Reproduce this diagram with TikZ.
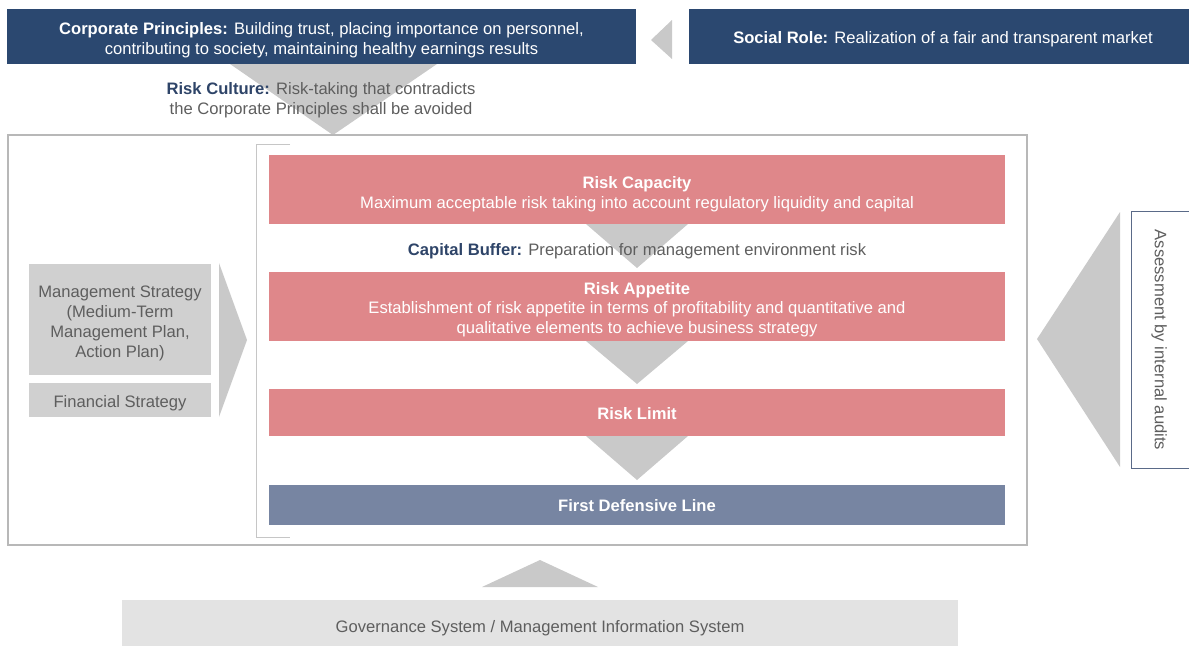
\documentclass[tikz,border=0pt]{standalone}
\usepackage{fontspec}
\setmainfont{Liberation Sans}
\usetikzlibrary{calc}
\definecolor{navy}{HTML}{2B4870}
\definecolor{pinkbox}{HTML}{DF878A}
\definecolor{slate}{HTML}{7785A2}
\definecolor{trigray}{HTML}{C9C9C9}
\definecolor{boxgray}{HTML}{D0D0D0}
\definecolor{govgray}{HTML}{E3E3E3}
\definecolor{txtgray}{HTML}{5E5E5E}
\definecolor{labnavy}{HTML}{2E4468}
\definecolor{framegray}{HTML}{B8B8B8}
\definecolor{auditline}{HTML}{5A6A88}
\newcommand\lowr[1]{\rule{0pt}{#1}}
\begin{document}
\begin{tikzpicture}[x=1pt,y=-1pt,
  every node/.style={inner sep=0pt, outer sep=0pt, align=center, text depth=0pt},
  txt/.style={font=\fontsize{16.6}{20}\selectfont},
  navybox/.style={txt, fill=navy, text=white, minimum height=55pt},
  riskbox/.style={txt, fill=pinkbox, text=white, minimum width=736pt},
  graybox/.style={txt, fill=boxgray, text=txtgray, minimum width=182pt},
  tri/.style={fill=trigray},
]
\useasboundingbox (0,0) rectangle (1189,646);
% top boxes
\node[navybox, minimum width=629pt] (cp) at (321.5,36.5)
  {\lowr{16pt}\textbf{Corporate Principles:} Building trust, placing importance on personnel,\\contributing to society, maintaining healthy earnings results};
\node[navybox, minimum width=501pt] (sr) at (939.5,36.5)
  {\lowr{14pt}\hspace*{7pt}\textbf{Social Role:} Realization of a fair and transparent market};
\coordinate (srtip) at (651,40);
\fill[tri] (srtip) -- (672,20) -- (672,59) -- cycle;
% risk culture triangle
\fill[tri] (230,64) -- (437,64) -- (333,135) -- cycle;
\node[txt, text=txtgray] (rc) at (321,98)
  {\textcolor{labnavy}{\textbf{Risk Culture:}} Risk-taking that contradicts\\the Corporate Principles shall be avoided};
% outer frame
\draw[framegray, line width=1.2pt] (8,135) rectangle (1027,545);
% bracket
\draw[framegray!80, line width=1pt] (290,144) -- (256,144) -- (256,537) -- (290,537);
% risk boxes
\node[riskbox, minimum height=69pt] (cap) at (637,189.5)
  {\lowr{18pt}\textbf{Risk Capacity}\\Maximum acceptable risk taking into account regulatory liquidity and capital};
\node[riskbox, minimum height=69pt] (app) at (637,306.5)
  {\lowr{14pt}\textbf{Risk Appetite}\\[-1pt]Establishment of risk appetite in terms of profitability and quantitative and\\qualitative elements to achieve business strategy};
\node[riskbox, minimum height=47pt] (lim) at (637,412.5) {\lowr{14pt}\textbf{Risk Limit}};
\node[riskbox, fill=slate, minimum height=40pt] (fdl) at (637,505) {\textbf{First Defensive Line}};
% down triangles
\fill[tri] ($(cap.south)+(-51,0)$) -- ($(cap.south)+(51,0)$) -- ($(cap.south)+(0,44)$) -- cycle;
\fill[tri] ($(app.south)+(-51,0)$) -- ($(app.south)+(51,0)$) -- ($(app.south)+(0,43)$) -- cycle;
\fill[tri] ($(lim.south)+(-51,0)$) -- ($(lim.south)+(51,0)$) -- ($(lim.south)+(0,44)$) -- cycle;
\node[txt, text=txtgray] (cb) at (637,249)
  {\textcolor{labnavy}{\textbf{Capital Buffer:}} Preparation for management environment risk};
% left boxes
\node[graybox, minimum height=111pt] (ms) at (120,319.5)
  {\lowr{16pt}Management Strategy\\(Medium-Term\\Management Plan,\\Action Plan)};
\node[graybox, minimum height=34pt] (fs) at (120,400) {\lowr{14pt}Financial Strategy};
\fill[tri] (219,263) -- (247,340) -- (219,417) -- cycle;
% right side audits
\fill[tri] (1037,339) -- (1120,212) -- (1120,467) -- cycle;
\draw[auditline, line width=1pt] (1192,211) -- (1131,211) -- (1131,468) -- (1192,468);
\node[txt, text=txtgray, rotate=-90] (aud) at (1161,340) {Assessment by internal audits};
% bottom
\fill[tri] (482,587) -- (598,587) -- (540,560) -- cycle;
\node[txt, fill=govgray, text=txtgray, minimum width=836pt, minimum height=46pt] (gov) at (540,623)
  {\lowr{18pt}Governance System / Management Information System};
\end{tikzpicture}
\end{document}
